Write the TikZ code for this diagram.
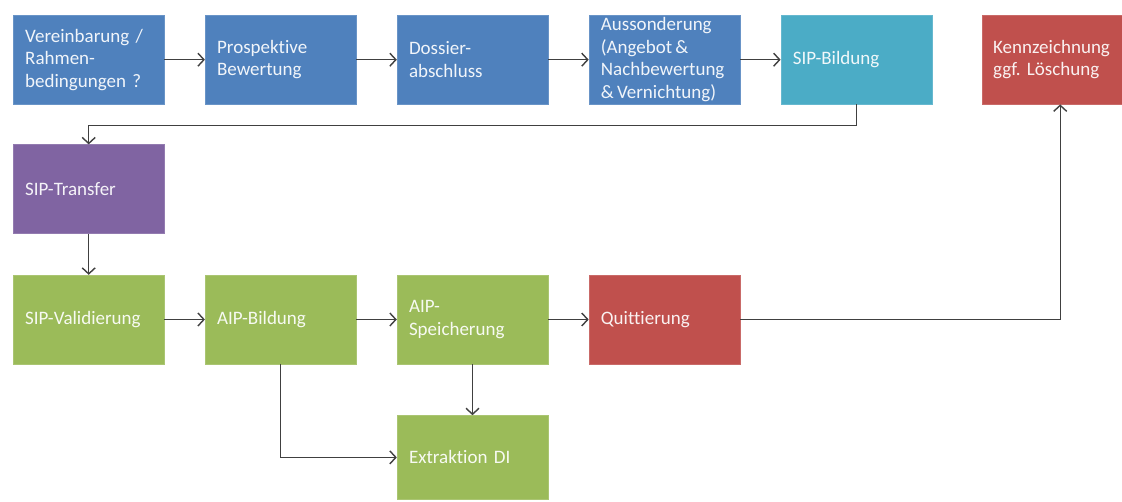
\documentclass[tikz,border=0pt]{standalone}
\usepackage{fontspec}
\setmainfont{Carlito}[Ligatures=NoCommon,WordSpace=0.8]
\usetikzlibrary{arrows.meta,positioning}
\definecolor{offblue}{HTML}{4F81BD}
\definecolor{offteal}{HTML}{4BACC6}
\definecolor{offviolet}{HTML}{8064A2}
\definecolor{offgreen}{HTML}{9BBB59}
\definecolor{offred}{HTML}{C0504D}
\definecolor{offline}{HTML}{404040}
\frenchspacing
\begin{document}
\begin{tikzpicture}[
  x=1pt,y=-1pt,
  font=\fontsize{19}{22.5}\selectfont,
  node distance=40.5pt,
  box/.style={fill=#1,draw=#1!85!white,text=white!92!#1,align=left,
    text width=127pt,inner xsep=12pt,inner ysep=0pt,minimum height=89pt},
  arr/.style={-{Straight Barb[length=6pt,width=13pt]},draw=offline,line width=1.4pt}
]
\useasboundingbox[fill=white] (0,0) rectangle (1122,502);
% Vorfeld
\node[box=offblue,anchor=north west] (vere) at (13,15) {Vereinbarung /\\Rahmen-\\bedingungen ?};
\node[box=offblue,right=of vere] (prosp) {Prospektive\\Bewertung};
\node[box=offblue,right=of prosp] (doss) {Dossier-\\abschluss};
\node[box=offblue,right=of doss] (auss) {Aussonderung\\(Angebot\,\&\\Nachbewertung\\\&\,Vernichtung)};
\node[box=offteal,right=of auss] (sipb) {SIP-Bildung};
\node[box=offred,right=50pt of sipb,text width=122pt,inner xsep=11pt] (kenn) {Kennzeichnung\\ggf. Löschung};
\draw[arr] (vere) -- (prosp);
\draw[arr] (prosp) -- (doss);
\draw[arr] (doss) -- (auss);
\draw[arr] (auss) -- (sipb);
% Transfer
\node[box=offviolet,below=40pt of vere] (trans) {SIP-Transfer};
\draw[arr] (sipb.south) -- ++(0,21) -| (trans.north);
% Archiv
\node[box=offgreen,below=41pt of trans] (sipv) {SIP-Validierung};
\node[box=offgreen,right=of sipv] (aipb) {AIP-Bildung};
\node[box=offgreen,right=of aipb] (aips) {AIP-\\Speicherung};
\node[box=offred,right=of aips] (quit) {Quittierung};
\node[box=offgreen,below=51pt of aips,minimum height=84pt] (extr) {Extraktion DI};
\draw[arr] (trans) -- (sipv);
\draw[arr] (sipv) -- (aipb);
\draw[arr] (aipb) -- (aips);
\draw[arr] (aips) -- (quit);
\draw[arr] (aips) -- (extr);
\draw[arr] (aipb.south) |- (extr.west);
\draw[arr] (quit.east) -| ([xshift=6pt]kenn.south);
\end{tikzpicture}
\end{document}
